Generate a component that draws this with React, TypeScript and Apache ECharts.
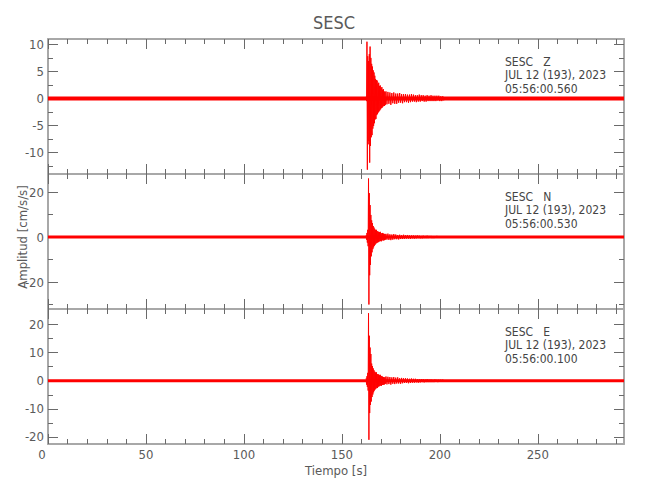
import React, { useEffect, useRef } from "react";
import * as echarts from "echarts";

// ---------------- data ----------------
const chartTitle = "SESC";
const xAxisTitle = "Tiempo [s]";
const yAxisTitle = "Amplitud [cm/s/s]";
const dateLabel = "JUL 12 (193), 2023";

const componentNames = ["Z", "N", "E"];
const startTimes = ["05:56:00.560", "05:56:00.530", "05:56:00.100"];

const timeMin = 0;
const timeMax = 294;
const xMajorTicks = [0, 50, 100, 150, 200, 250];
const xMinorTicks = [10, 20, 30, 40, 60, 70, 80, 90, 110, 120, 130, 140, 160, 170, 180, 190, 210, 220, 230, 240, 260, 270, 280, 290];

const yRanges = [
  [-14, 11],
  [-32, 28],
  [-22.5, 25.5],
];
const yMajorTicks = [
  [-10, -5, 0, 5, 10],
  [-20, 0, 20],
  [-20, -10, 0, 10, 20],
];
const yMinorTicks = [
  [-12.5, -7.5, -2.5, 2.5, 7.5],
  [-30, -10, 10],
  [-15, -5, 5, 15],
];

// mean level of each trace (background noise band)
const traceMean = [0, 0, 0];

// strong-motion burst: samples every burstStep s from burstStart
const burstStart = 162.4;
const burstStep = 0.2;
const zBurst = [
  0.3, -0.5, 10.5, -13.2, 7.8, -8.5, 6.9, -7.9, 8.2, -11.9,
  9.6, -8.8, 7.5, -7.2, 6.4, -6.8, 5.9, -5.6, 5.2, -5.1,
  4.8, -4.6, 4.2, -3.9, 3.6, -3.8, 3.4, -3.1, 3.3, -2.9,
  2.7, -2.6, 2.9, -2.4, 2.3, -2.2, 2.4, -2.0, 1.9, -1.8,
  2.1, -1.7, 1.6, -1.5, 1.7, -1.4, 1.3, -1.4, 1.2, -1.2,
];
const nBurst = [
  0.8, -1.2, 1.8, -2.5, 3.2, -4.1, 26.0, -30.0, 19.5, -17.0,
  14.2, -12.4, 9.8, -8.6, 7.4, -6.8, 6.2, -5.4, 4.9, -4.6,
  4.2, -3.9, 3.6, -3.4, 3.1, -2.9, 3.2, -2.7, 2.6, -2.4,
  2.5, -2.3, 2.2, -2.0, 2.1, -1.9, 2.3, -1.8, 1.7, -1.9,
  1.6, -1.5, 1.8, -1.4, 1.5, -1.6, 1.4, -1.3, 1.3, -1.2,
];
const eBurst = [
  0.9, -1.4, 1.6, -2.2, 2.8, -3.5, 24.0, -21.0, 16.0, -11.5,
  11.8, -8.6, 9.5, -7.4, 6.1, -5.8, 5.2, -4.9, 4.4, -4.1,
  3.7, -3.5, 3.2, -3.1, 2.9, -2.8, 3.0, -2.5, 2.4, -2.6,
  2.3, -2.1, 2.2, -2.0, 1.9, -1.8, 2.1, -1.7, 1.6, -1.8,
  1.7, -1.5, 1.4, -1.5, 1.3, -1.4, 1.2, -1.3, 1.2, -1.1,
];

// coda: samples every codaStep s from codaStart
const codaStart = 172.5;
const codaStep = 0.5;
const zCoda = [
  1.3, -1.1, 1.2, -1.0, 1.1, -1.2, 1.0, -0.9, 1.1, -1.0,
  0.9, -1.0, 0.9, -0.8, 1.0, -0.8, 0.8, -0.9, 0.8, -0.7,
  0.8, -0.7, 0.7, -0.8, 0.7, -0.7, 0.8, -0.6, 0.7, -0.6,
  0.6, -0.7, 0.6, -0.6, 0.7, -0.6, 0.6, -0.5, 0.6, -0.6,
  0.5, -0.6, 0.6, -0.5, 0.5, -0.5, 0.6, -0.5, 0.5, -0.5,
  0.5, -0.5, 0.5, -0.4, 0.5, -0.5, 0.4, -0.5, 0.4, -0.4,
];
const nCoda = [
  1.4, -1.2, 1.5, -1.3, 1.2, -1.4, 1.1, -1.2, 1.3, -1.0,
  1.1, -1.0, 0.9, -1.1, 1.0, -0.9, 0.8, -0.9, 1.0, -0.8,
  0.8, -0.7, 0.9, -0.7, 0.7, -0.8, 0.7, -0.6, 0.7, -0.7,
  0.6, -0.6, 0.7, -0.5, 0.6, -0.6, 0.5, -0.6, 0.6, -0.5,
  0.5, -0.5, 0.6, -0.5, 0.5, -0.4, 0.5, -0.5, 0.4, -0.5,
  0.4, -0.4, 0.5, -0.4, 0.4, -0.4, 0.4, -0.4, 0.4, -0.4,
];
const eCoda = [
  1.5, -1.3, 1.4, -1.2, 1.3, -1.4, 1.2, -1.1, 1.3, -1.2,
  1.1, -1.0, 1.2, -1.0, 0.9, -1.1, 1.0, -0.9, 0.9, -0.8,
  0.9, -0.8, 0.8, -0.9, 0.7, -0.8, 0.8, -0.7, 0.7, -0.7,
  0.7, -0.6, 0.6, -0.7, 0.6, -0.6, 0.6, -0.5, 0.6, -0.6,
  0.5, -0.5, 0.6, -0.5, 0.5, -0.5, 0.5, -0.5, 0.4, -0.5,
  0.5, -0.4, 0.4, -0.5, 0.4, -0.4, 0.4, -0.4, 0.4, -0.4,
];

const bursts = [zBurst, nBurst, eBurst];
const codas = [zCoda, nCoda, eCoda];

// ---------------- style ----------------
const FONT = "'Liberation Sans Narrow','DejaVu Sans Condensed','Roboto Condensed','Noto Sans',sans-serif";
const AXIS_COLOR = "#a8a8a8";
const TICK_COLOR = "#6a6a6a";
const TEXT_COLOR = "#5a5a5a";
const ANNOT_COLOR = "#444444";
const TRACE_COLOR = "#ff0000";
const gridTops = [39, 174, 309];
const gridHeight = 135;
const gridLeft = 48;
const gridRight = 26;
const baselineWidths = [4, 3, 3];

function traceData(i: number) {
  const pts: number[][] = [];
  bursts[i].forEach((v, k) => pts.push([burstStart + k * burstStep, v]));
  codas[i].forEach((v, k) => pts.push([codaStart + k * codaStep, v]));
  return pts;
}

function makeAxis(
  kind: "x" | "y",
  gridIndex: number,
  position: string,
  min: number,
  max: number,
  ticks: number[],
  major: boolean,
  labels: boolean
) {
  const label: any = {
    show: labels,
    customValues: ticks,
    margin: 4,
    color: TEXT_COLOR,
    fontFamily: FONT,
    fontSize: 13,
  };
  if (kind === "x") {
    label.formatter = (v: number) => (v === 0 ? "{z|0}" : String(v));
    label.rich = {
      z: { padding: [0, 12, 0, 0], color: TEXT_COLOR, fontFamily: FONT, fontSize: 13 },
    };
  }
  return {
    type: "value",
    gridIndex,
    position,
    min,
    max,
    splitLine: { show: false },
    axisLine: {
      show: major,
      onZero: false,
      lineStyle: { color: AXIS_COLOR, width: 2 },
    },
    axisTick: {
      show: true,
      inside: true,
      length: major ? 10 : 5,
      customValues: ticks,
      lineStyle: { color: TICK_COLOR, width: 1 },
    },
    axisLabel: label,
  };
}

function buildOption() {
  const grid = gridTops.map((top) => ({
    left: gridLeft,
    right: gridRight,
    top,
    height: gridHeight,
  }));
  const xAxis: any[] = [];
  const yAxis: any[] = [];
  const series: any[] = [];
  const graphic: any[] = [];

  componentNames.forEach((comp, i) => {
    const isLast = i === componentNames.length - 1;
    const [ymin, ymax] = yRanges[i];
    const axBase = xAxis.length;
    xAxis.push(makeAxis("x", i, "bottom", timeMin, timeMax, xMajorTicks, true, isLast));
    xAxis.push(makeAxis("x", i, "bottom", timeMin, timeMax, xMinorTicks, false, false));
    xAxis.push(makeAxis("x", i, "top", timeMin, timeMax, xMajorTicks, true, false));
    xAxis.push(makeAxis("x", i, "top", timeMin, timeMax, xMinorTicks, false, false));
    const ayBase = yAxis.length;
    yAxis.push(makeAxis("y", i, "left", ymin, ymax, yMajorTicks[i], true, true));
    yAxis.push(makeAxis("y", i, "left", ymin, ymax, yMinorTicks[i], false, false));
    yAxis.push(makeAxis("y", i, "right", ymin, ymax, yMajorTicks[i], true, false));
    yAxis.push(makeAxis("y", i, "right", ymin, ymax, yMinorTicks[i], false, false));

    series.push({
      type: "line",
      xAxisIndex: axBase,
      yAxisIndex: ayBase,
      data: [
        [timeMin, traceMean[i]],
        [timeMax, traceMean[i]],
      ],
      symbol: "none",
      silent: true,
      lineStyle: { color: TRACE_COLOR, width: baselineWidths[i] },
      z: 2,
    });
    series.push({
      type: "line",
      xAxisIndex: axBase,
      yAxisIndex: ayBase,
      data: traceData(i),
      symbol: "none",
      silent: true,
      clip: true,
      lineStyle: { color: TRACE_COLOR, width: 1 },
      z: 3,
    });

    const top = gridTops[i];
    const lines = [`${chartTitle}   ${comp}`, dateLabel, startTimes[i]];
    lines.forEach((t, k) => {
      graphic.push({
        type: "text",
        left: 505,
        top: top + 17 + k * 13.3,
        style: {
          text: t,
          fill: ANNOT_COLOR,
          font: `12px ${FONT}`,
        },
        z: 10,
      });
    });
  });

  graphic.push({
    type: "text",
    x: 334,
    y: 22,
    style: {
      text: chartTitle,
      fill: TEXT_COLOR,
      font: `18px ${FONT}`,
      textAlign: "center",
      textVerticalAlign: "middle",
    },
  });
  graphic.push({
    type: "text",
    x: 336,
    y: 470,
    style: {
      text: xAxisTitle,
      fill: TEXT_COLOR,
      font: `13px ${FONT}`,
      textAlign: "center",
      textVerticalAlign: "middle",
    },
  });
  graphic.push({
    type: "text",
    x: 22,
    y: 237,
    rotation: Math.PI / 2,
    style: {
      text: yAxisTitle,
      fill: TEXT_COLOR,
      font: `13px ${FONT}`,
      textAlign: "center",
      textVerticalAlign: "middle",
    },
  });

  return {
    animation: false,
    backgroundColor: "#ffffff",
    grid,
    xAxis,
    yAxis,
    series,
    graphic,
  };
}

export default function App() {
  const ref = useRef<HTMLDivElement>(null);
  useEffect(() => {
    if (!ref.current) return;
    const chart = echarts.init(ref.current, undefined, { renderer: "svg" });
    chart.setOption(buildOption() as any);
    return () => chart.dispose();
  }, []);
  return (
    <div
      ref={ref}
      style={{ position: "fixed", left: 0, top: 0, width: 650, height: 500, background: "#fff" }}
    />
  );
}
